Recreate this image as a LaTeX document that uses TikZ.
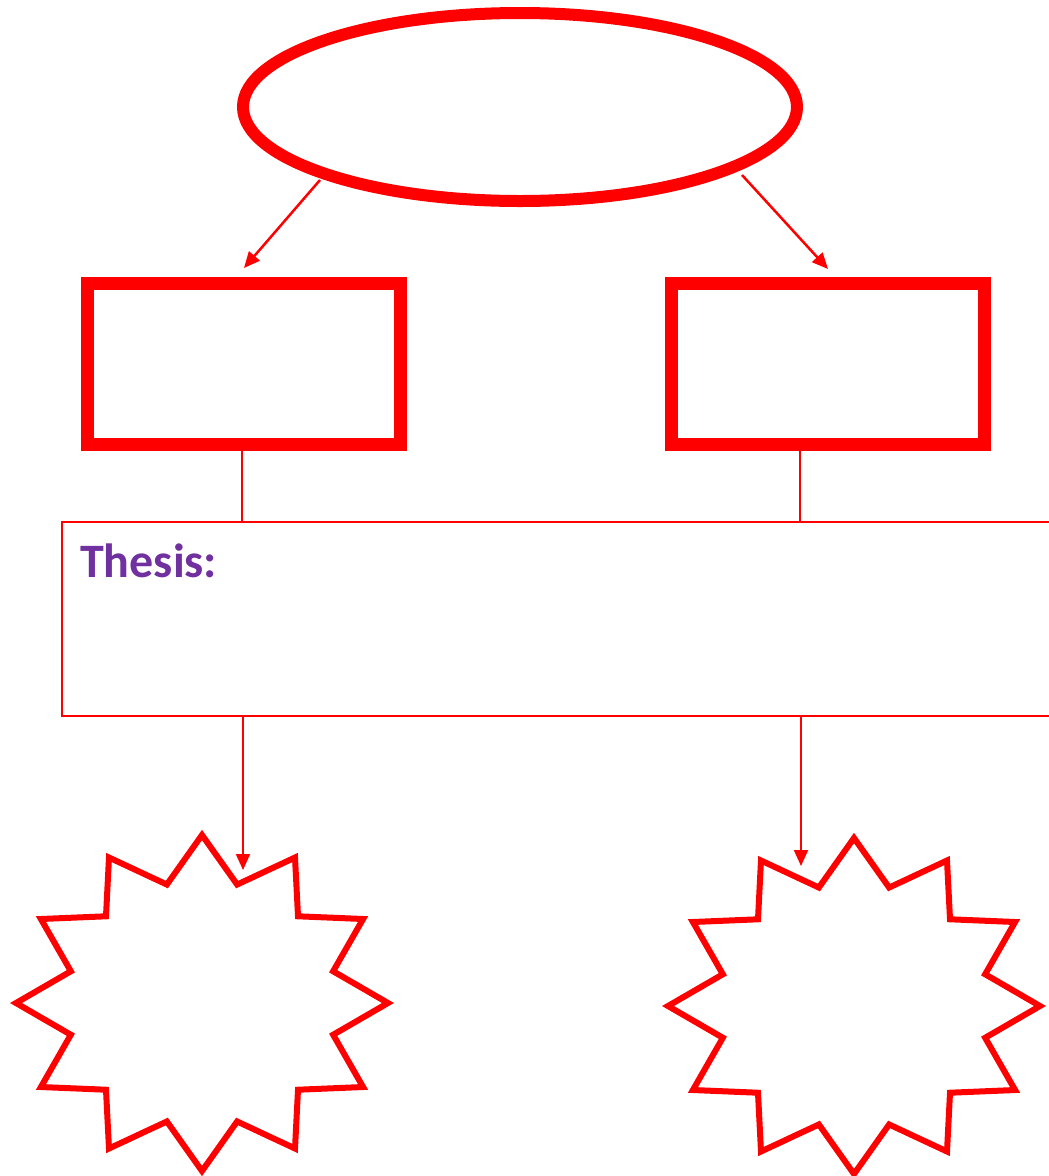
\documentclass[tikz,border=0pt]{standalone}
\usepackage{fontspec}
\setmainfont{Carlito}
\usetikzlibrary{arrows.meta,shapes.geometric}
\definecolor{myred}{RGB}{255,0,0}
\definecolor{thesispurple}{RGB}{112,48,160}
\tikzset{
  bigbox/.style={draw=myred, line width=13pt, minimum width=313pt, minimum height=161pt, inner sep=0pt},
  thinline/.style={draw=myred, line width=2pt},
  arrowline/.style={draw=myred, line width=2.5pt, -{Triangle[length=16pt,width=14pt]}},
  starline/.style={draw=myred, line width=6pt, line join=miter},
}
\begin{document}
\begin{tikzpicture}[x=1pt,y=-1pt]
\useasboundingbox (0,0) rectangle (1049,1176);
\node[ellipse, draw=myred, line width=12pt, minimum width=554pt, minimum height=188pt, inner sep=0pt] (top) at (520,107) {};
\node[bigbox] (lbox) at (243.5,363.5) {};
\node[bigbox] (rbox) at (828,363.5) {};
\node[draw=myred, line width=2pt, minimum width=1000pt, minimum height=194pt, inner sep=0pt] (thesis) at (562,619) {};
\node[anchor=base west, inner sep=0pt, text=thesispurple, font=\fontsize{48}{58}\selectfont\bfseries] (thesislabel) at (80,577) {Thesis:};
% coordinates
\coordinate (e1) at (320,180);
\coordinate (t1) at (244,268);
\coordinate (e2) at (742,175);
\coordinate (t2) at (828,269);
\coordinate (lb) at (242,450);
\coordinate (rb) at (800,450);
\coordinate (lt) at (242,522);
\coordinate (rt) at (800,522);
\coordinate (ls) at (243,716);
\coordinate (rs) at (801,716);
\coordinate (lstar) at (202,1003);
\coordinate (rstar) at (854,1006);
\coordinate (lstartip) at (243,870);
\coordinate (rstartip) at (801,866);
% connectors
\draw[arrowline] (e1) -- (t1);
\draw[arrowline] (e2) -- (t2);
\draw[thinline] (lb) -- (lt);
\draw[thinline] (rb) -- (rt);
\draw[arrowline, line width=2pt] (ls) -- (lstartip);
\draw[arrowline, line width=2pt] (rs) -- (rstartip);
% stars
\foreach \cx/\cy in {202/1003, 854/1006}{
  \draw[starline, shift={(\cx,\cy)}] (90:186 and 168)
    \foreach \k [evaluate=\k as \r using {mod(\k,2)==0 ? 1 : 0.73}] in {1,...,23} { -- ({90+15*\k}:{186*\r} and {168*\r}) } -- cycle;
}
\end{tikzpicture}
\end{document}
